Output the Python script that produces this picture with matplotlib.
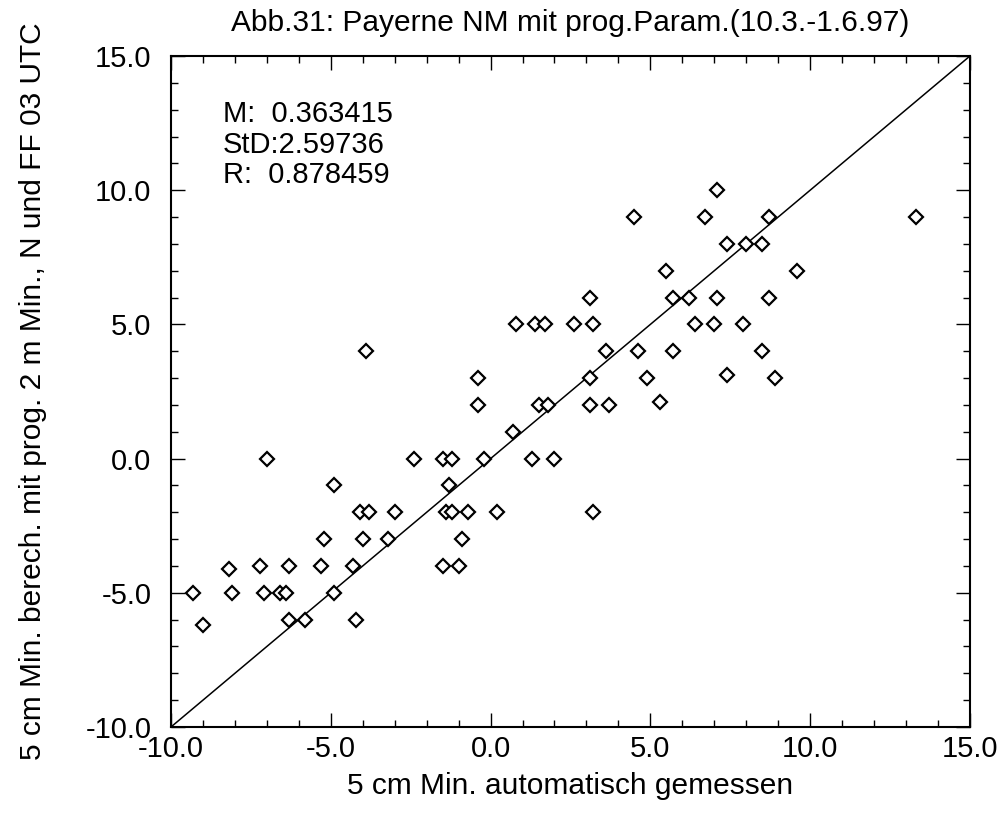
import numpy as np
import matplotlib
matplotlib.use("Agg")
import matplotlib.pyplot as plt
from matplotlib.ticker import MultipleLocator, FormatStrFormatter

plt.rcParams['font.family'] = ['Liberation Sans', 'DejaVu Sans']

# measured (x) vs computed (y) 5 cm minimum temperatures
measured = [-3.9, -0.4, -0.4, -7.0, -2.4, -1.5, -1.2, -0.2, -4.9, -1.3,
            -4.1, -3.8, -3.0, -1.4, -1.2, -0.7, 0.2, -5.2, -4.0, -3.2,
            -0.9, -8.2, -7.2, -6.3, -5.3, -4.3, -1.5, -1.0, -9.3, -8.1,
            -7.1, -6.6, -6.4, -4.9, -9.0, -6.3, -5.8, -4.2, 7.1, 4.5,
            6.7, 8.7, 13.3, 7.4, 8.0, 8.5, 5.5, 9.6, 3.1, 5.7,
            6.2, 7.1, 8.7, 0.8, 1.4, 1.7, 2.6, 3.2, 6.4, 7.0,
            7.9, 3.6, 4.6, 5.7, 8.5, 3.1, 4.9, 7.4, 8.9, 1.5,
            1.8, 3.1, 3.7, 5.3, 0.7, 1.3, 2.0, 3.2]
computed = [4, 3, 2, 0, 0, 0, 0, 0, -1, -1,
            -2, -2, -2, -2, -2, -2, -2, -3, -3, -3,
            -3, -4.1, -4, -4, -4, -4, -4, -4, -5, -5,
            -5, -5, -5, -5, -6.2, -6, -6, -6, 10, 9,
            9, 9, 9, 8, 8, 8, 7, 7, 6, 6,
            6, 6, 6, 5, 5, 5, 5, 5, 5, 5,
            5, 4, 4, 4, 4, 3, 3, 3.1, 3, 2,
            2, 2, 2, 2.1, 1, 0, 0, -2]

stats_lines = ["M:  0.363415", "StD:2.59736", "R:  0.878459"]
lims = [-10, 15]

fig = plt.figure(figsize=(10.07, 8.13), dpi=100)
ax = fig.add_axes([0.1698, 0.1058, 0.7934, 0.8253])

ax.plot(lims, lims, color='black', lw=1.1)
ax.plot(measured, computed, linestyle='none', marker='D', ms=7.5,
        mfc='white', mec='black', mew=1.6)

ax.set_xlim(lims)
ax.set_ylim(lims)
for axis in (ax.xaxis, ax.yaxis):
    axis.set_major_locator(MultipleLocator(5))
    axis.set_minor_locator(MultipleLocator(1))
    axis.set_major_formatter(FormatStrFormatter('%.1f'))
ax.tick_params(which='both', direction='in', top=True, right=True,
               width=1.0, labelsize=21)
ax.tick_params(which='major', length=10)
ax.tick_params(which='minor', length=5)
ax.tick_params(axis='y', pad=14)
ax.tick_params(axis='x', pad=6)
for sp in ax.spines.values():
    sp.set_linewidth(1.5)

ax.set_title("Abb.31: Payerne NM mit prog.Param.(10.3.-1.6.97)",
             fontsize=21.5, pad=18)
ax.set_xlabel("5 cm Min. automatisch gemessen", fontsize=21.5, labelpad=6)
ax.set_ylabel("5 cm Min. berech. mit prog. 2 m Min., N und FF 03 UTC",
              fontsize=21.5, labelpad=28)

for i, line in enumerate(stats_lines):
    ax.text(0.065, 0.913 - i * 0.0455, line, transform=ax.transAxes,
            fontsize=21, va='center', ha='left')

fig.savefig("out.png", dpi=100)
